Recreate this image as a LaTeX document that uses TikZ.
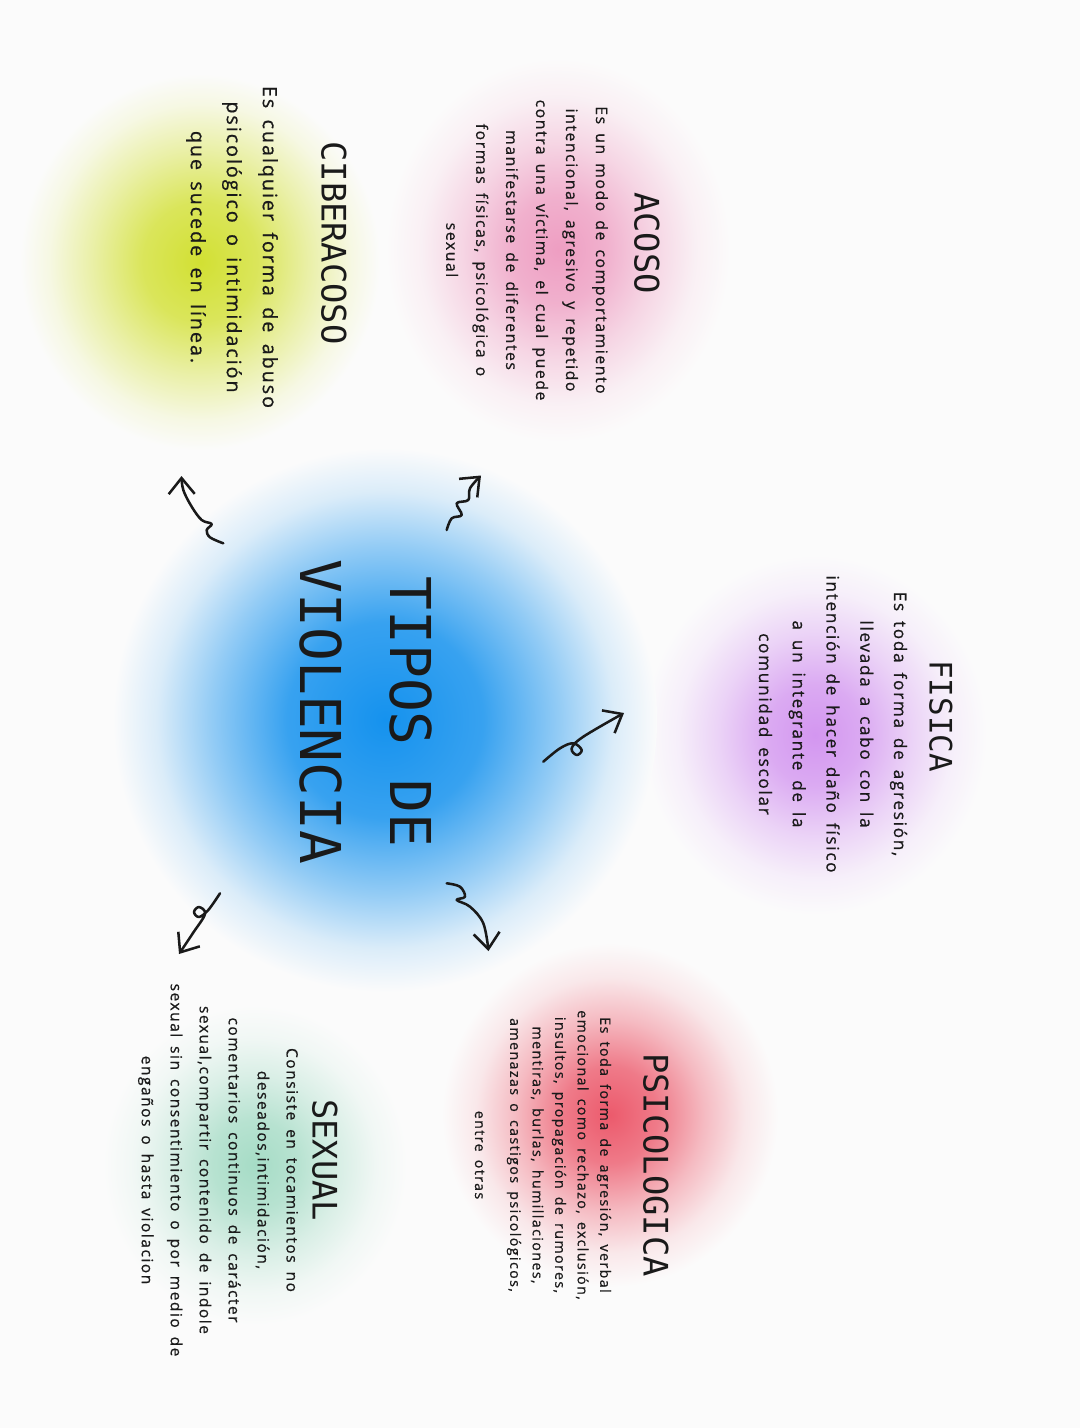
\documentclass[tikz,border=0pt]{standalone}
\usepackage{fontspec}
\setmainfont{Open Sans}
\newfontfamily\monof{DejaVu Sans Mono}
\newfontfamily\bodyf[LetterSpace=10,FakeBold=0.7,WordSpace=1.6]{Open Sans}
\usetikzlibrary{arrows.meta}
\definecolor{paper}{HTML}{FBFBFB}
\definecolor{ink}{HTML}{1A1A1A}
\definecolor{cpink}{HTML}{EE9EC2}
\definecolor{cgreen}{HTML}{D2E033}
\definecolor{cviolet}{HTML}{D396F0}
\definecolor{cblue}{HTML}{1592EE}
\definecolor{cred}{HTML}{EC5A6C}
\definecolor{cteal}{HTML}{A6DCC6}
\pgfdeclareradialshading{blobpink}{\pgfpoint{0bp}{0bp}}{color(0bp)=(cpink); color(7bp)=(cpink!80!paper); color(14bp)=(cpink!40!paper); color(20bp)=(cpink!12!paper); color(25bp)=(paper); color(50bp)=(paper)}
\pgfdeclareradialshading{blobgreen}{\pgfpoint{0bp}{0bp}}{color(0bp)=(cgreen); color(8bp)=(cgreen!80!paper); color(15bp)=(cgreen!42!paper); color(21bp)=(cgreen!12!paper); color(25bp)=(paper); color(50bp)=(paper)}
\pgfdeclareradialshading{blobviolet}{\pgfpoint{0bp}{0bp}}{color(0bp)=(cviolet); color(7bp)=(cviolet!80!paper); color(14bp)=(cviolet!40!paper); color(20bp)=(cviolet!12!paper); color(25bp)=(paper); color(50bp)=(paper)}
\pgfdeclareradialshading{blobblue}{\pgfpoint{0bp}{0bp}}{color(0bp)=(cblue); color(9bp)=(cblue!85!paper); color(16bp)=(cblue!45!paper); color(21bp)=(cblue!14!paper); color(25bp)=(paper); color(50bp)=(paper)}
\pgfdeclareradialshading{blobred}{\pgfpoint{0bp}{0bp}}{color(0bp)=(cred); color(7bp)=(cred!80!paper); color(14bp)=(cred!40!paper); color(20bp)=(cred!12!paper); color(25bp)=(paper); color(50bp)=(paper)}
\pgfdeclareradialshading{blobteal}{\pgfpoint{0bp}{0bp}}{color(0bp)=(cteal); color(7bp)=(cteal!80!paper); color(14bp)=(cteal!40!paper); color(20bp)=(cteal!12!paper); color(25bp)=(paper); color(50bp)=(paper)}
\tikzset{
  ttl/.style={font=\monof\fontsize{40}{64}\selectfont, rotate=-90, align=center, text=ink, inner sep=0pt},
  headtxt/.style={font=\monof\fontsize{24}{28}\selectfont, rotate=-90, text=ink, inner sep=0pt},
  bodytxt/.style={rotate=-90, align=center, text=ink, inner sep=0pt},
  squig/.style={draw=ink, line width=1.8pt, line cap=round, line join=round, -{Straight Barb[length=4mm,width=6.5mm,line width=1.8pt]}}
}
\begin{document}
\begin{tikzpicture}[x=0.025cm, y=-0.025cm]
\useasboundingbox (0,0) rectangle (1080,1428);
\fill[paper] (0,0) rectangle (1080,1428);
% blobs
\shade[shading=blobpink] (558,250) ellipse [x radius=4.3cm, y radius=4.8cm];
\shade[shading=blobgreen] (200,262) ellipse [x radius=4.5cm, y radius=4.7cm];
\shade[shading=blobviolet] (815,735) ellipse [x radius=4.3cm, y radius=4.5cm];
\shade[shading=blobred] (610,1115) ellipse [x radius=4.2cm, y radius=4.3cm];
\shade[shading=blobteal] (255,1165) ellipse [x radius=3.8cm, y radius=4.0cm];
\shade[shading=blobblue] (385,720) ellipse [x radius=6.8cm, y radius=6.8cm];
% title
\node[ttl] (title) at (366,712) {TIPOS DE\\VIOLENCIA};
% ACOSO
\node[headtxt] (acosoH) at (647,243) {ACOSO};
\node[bodytxt, font=\bodyf\fontsize{11.2}{21.3}\selectfont] (acosoB) at (527,250)
 {Es un modo de comportamiento\\intencional, agresivo y repetido\\contra una víctima, el cual puede\\manifestarse de diferentes\\formas físicas, psicológica o\\sexual};
% CIBERACOSO
\node[headtxt] (ciberH) at (334,243) {CIBERACOSO};
\node[bodytxt, font=\bodyf\fontsize{14}{25.6}\selectfont] (ciberB) at (232,247)
 {Es cualquier forma de abuso\\psicológico o intimidación\\que sucede en línea.};
% FISICA
\node[headtxt, font=\monof\fontsize{22}{26}\selectfont] (fisicaH) at (941,716) {FISICA};
\node[bodytxt, font=\bodyf\fontsize{12.2}{24}\selectfont] (fisicaB) at (833,724)
 {Es toda forma de agresión,\\llevada a cabo con la\\intención de hacer daño físico\\a un integrante de la\\comunidad escolar};
% PSICOLOGICA
\node[headtxt] (psicoH) at (656,1165) {PSICOLOGICA};
\node[bodytxt, font=\bodyf\fontsize{10.1}{16}\selectfont] (psicoB) at (543,1155)
 {Es toda forma de agresión, verbal\\emocional como rechazo, exclusión,\\insultos, propagación de rumores,\\mentiras, burlas, humillaciones,\\amenazas o castigos psicológicos,\\[9pt]entre otras};
% SEXUAL
\node[headtxt] (sexualH) at (325,1160) {SEXUAL};
\node[bodytxt, font=\bodyf\fontsize{11}{20.6}\selectfont] (sexualB) at (218,1170)
 {Consiste en tocamientos no\\deseados,intimidación,\\comentarios continuos de carácter\\sexual,compartir contenido de indole\\sexual sin consentimiento o por medio de\\engaños o hasta violacion};
% arrow ends
\coordinate (t1) at (446.7,530);  \coordinate (h1) at (481,475.5);
\coordinate (t2) at (223.3,543.3); \coordinate (h2) at (181.5,476);
\coordinate (t3) at (543.3,761.7); \coordinate (h3) at (624,713);
\coordinate (t4) at (446.7,883.3); \coordinate (h4) at (488.5,951);
\coordinate (t5) at (220,893.3);   \coordinate (h5) at (179,954);
% arrows
\draw[squig] plot[smooth, tension=0.6] coordinates {(t1) (451.7,518.3) (461.7,515) (456.7,503.3) (468.3,500) (470,488.3) (h1)};
\draw[squig] plot[smooth, tension=0.6] coordinates {(t2) (210,537.3) (206.7,530) (211.7,524) (201.7,520) (191.7,506.7) (183.3,490) (h2)};
\draw[squig] plot[smooth, tension=0.6] coordinates {(t3) (560,748.3) (573.3,743.3) (581.7,750) (576.7,755) (571.7,748.3) (583.3,736.7) (h3)};
\draw[squig] plot[smooth, tension=0.6] coordinates {(t4) (460,886.7) (465,896.7) (456.7,900) (470,906.7) (483.3,923.3) (h4)};
\draw[squig] plot[smooth, tension=0.6] coordinates {(t5) (208.3,910) (199,917) (194,912) (199,907) (205,914) (193,933) (h5)};
\end{tikzpicture}
\end{document}
